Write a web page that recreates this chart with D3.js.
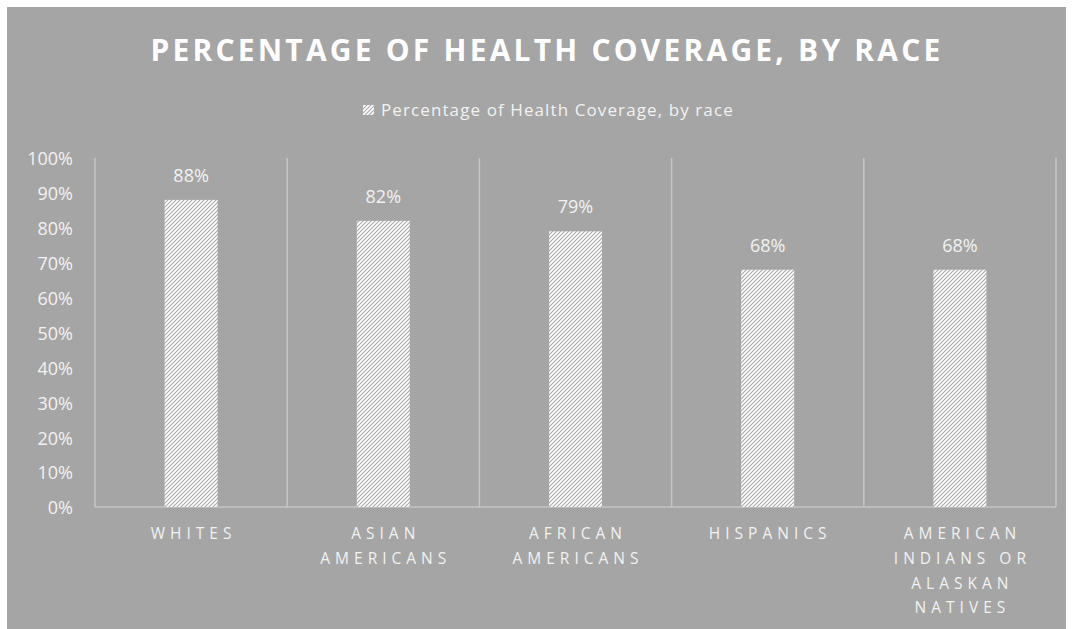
<!DOCTYPE html>
<html>
<head>
<meta charset="utf-8">
<script src="https://cdn.jsdelivr.net/npm/d3@7"></script>
<style>
  body { margin: 0; background: #fff; }
  svg text { font-family: "Open Sans", "DejaVu Sans", sans-serif; }
</style>
</head>
<body>
<svg id="chart" width="1073" height="629"></svg>
<script>
// data
const categories = ["Whites", "Asian Americans", "African Americans", "Hispanics", "American Indians or Alaskan Natives"];
const categoryLines = [["WHITES"], ["ASIAN", "AMERICANS"], ["AFRICAN", "AMERICANS"], ["HISPANICS"], ["AMERICAN", "INDIANS OR", "ALASKAN", "NATIVES"]];
const coverage = [88, 82, 79, 68, 68];
const yTicks = [0, 10, 20, 30, 40, 50, 60, 70, 80, 90, 100];
const seriesName = "Percentage of Health Coverage, by race";

const svg = d3.select("#chart");
const bg = "#a5a5a5";
const textCol = "#f2f2f2";
const lineCol = "#c6c6c6";

// panel
svg.append("rect")
    .attr("x", 7).attr("y", 7)
    .attr("width", 1059).attr("height", 622)
    .attr("fill", bg);

// hatch pattern (wide upward diagonal)
const defs = svg.append("defs");
const pat = defs.append("pattern")
    .attr("id", "hatch")
    .attr("patternUnits", "userSpaceOnUse")
    .attr("width", 4).attr("height", 4);
pat.append("rect").attr("width", 4).attr("height", 4).attr("fill", "#ffffff");
pat.append("path")
    .attr("d", "M-1,1 l2,-2 M0,4 l4,-4 M3,5 l2,-2")
    .attr("stroke", "#a8a8a8")
    .attr("stroke-width", 1.1);

const margin = { top: 158, left: 95, right: 1056, bottom: 507 };

const x = d3.scaleBand()
    .domain(categories)
    .range([margin.left, margin.right])
    .paddingInner(0).paddingOuter(0);

const y = d3.scaleLinear()
    .domain([0, 100])
    .range([margin.bottom, margin.top]);

// title
svg.append("text")
    .attr("x", 547).attr("y", 61)
    .attr("text-anchor", "middle")
    .attr("fill", "#ffffff")
    .style("font-size", "30px")
    .style("font-weight", "bold")
    .style("letter-spacing", "3.2px")
    .text("PERCENTAGE OF HEALTH COVERAGE, BY RACE");

// legend
svg.append("rect")
    .attr("x", 363).attr("y", 105)
    .attr("width", 11).attr("height", 10)
    .attr("fill", "url(#hatch)");
svg.append("text")
    .attr("x", 381).attr("y", 116)
    .attr("fill", textCol)
    .style("font-size", "17px")
    .style("letter-spacing", "1.1px")
    .text(seriesName);

// category separators
const seps = categories.map(c => x(c)).concat([x.range()[1]]);
svg.append("g").selectAll("line")
    .data(seps)
    .enter().append("line")
    .attr("x1", d => d).attr("x2", d => d)
    .attr("y1", y(100)).attr("y2", y(0))
    .attr("stroke", lineCol)
    .attr("stroke-width", 1.5);

// baseline
svg.append("line")
    .attr("x1", margin.left).attr("x2", margin.right)
    .attr("y1", y(0)).attr("y2", y(0))
    .attr("stroke", lineCol)
    .attr("stroke-width", 1.5);

// y axis labels
const yAxis = d3.axisLeft(y).tickValues(yTicks).tickFormat(d => d + "%").tickSize(0).tickPadding(22);
const ya = svg.append("g")
    .attr("transform", "translate(" + margin.left + ",0)")
    .call(yAxis);
ya.select(".domain").remove();
ya.selectAll("text")
    .attr("fill", textCol)
    .attr("dy", "0.38em")
    .style("font-size", "18px");

// bars
const barW = 53;
svg.append("g").selectAll("rect")
    .data(coverage)
    .enter().append("rect")
    .attr("x", (d, i) => x(categories[i]) + x.bandwidth() / 2 - barW / 2)
    .attr("y", d => y(d))
    .attr("width", barW)
    .attr("height", d => y(0) - y(d))
    .attr("fill", "url(#hatch)");

// value labels
svg.append("g").selectAll("text")
    .data(coverage)
    .enter().append("text")
    .attr("x", (d, i) => x(categories[i]) + x.bandwidth() / 2)
    .attr("y", d => y(d) - 18)
    .attr("text-anchor", "middle")
    .attr("fill", textCol)
    .style("font-size", "18px")
    .text(d => d + "%");

// category labels
categoryLines.forEach((lines, i) => {
    const t = svg.append("text")
        .attr("text-anchor", "middle")
        .attr("fill", textCol)
        .style("font-size", "15.5px")
        .style("letter-spacing", "5px");
    lines.forEach((ln, j) => {
        t.append("tspan")
            .attr("x", x(categories[i]) + x.bandwidth() / 2 + 2.5)
            .attr("y", 539 + j * 24.8)
            .text(ln);
    });
});
</script>
</body>
</html>
